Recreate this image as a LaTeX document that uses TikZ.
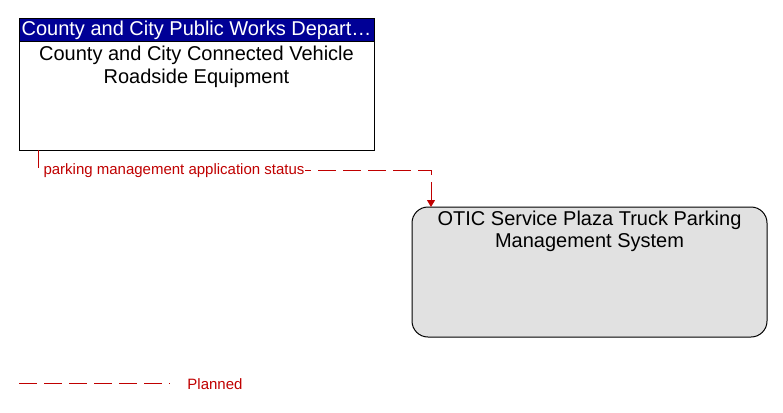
\documentclass[tikz,border=0pt]{standalone}
\usepackage{fontspec}
\setmainfont{Liberation Sans}
\usetikzlibrary{arrows.meta}
\definecolor{hdrblue}{RGB}{0,0,150}
\definecolor{plred}{RGB}{192,0,0}
\definecolor{boxgray}{RGB}{225,225,225}
\tikzset{
  elem/.style={draw=black, line width=1pt, minimum width=355pt, inner sep=0pt},
  bigtxt/.style={font=\fontsize{20}{22.5}\selectfont, align=center, inner sep=0pt},
  smalltxt/.style={font=\fontsize{15}{17}\selectfont, inner sep=0pt},
  planned/.style={draw=plred, line width=1pt, dash pattern=on 18pt off 7pt},
  tip/.style={-{Triangle[width=8pt,length=7pt]}}
}
\begin{document}
\begin{tikzpicture}[x=1pt,y=-1pt]
\useasboundingbox (0,0) rectangle (783,412);
% element 1
\node[elem, fill=white, minimum height=131pt] (box1) at (196.5,84.5) {};
\node[elem, fill=hdrblue, minimum height=23pt, text=white, font=\fontsize{20}{22}\selectfont] (hdr1) at (196.5,30.5) {County and City Public Works Depart…};
\node[bigtxt] (t1) at (196.5,67) {County and City Connected Vehicle\\Roadside Equipment};
% element 2
\node[elem, fill=boxgray, minimum height=130pt, rounded corners=16pt] (box2) at (589.5,272) {};
\node[bigtxt] (t2) at (589.5,231.5) {OTIC Service Plaza Truck Parking\\Management System};
% connector
\coordinate (s) at (38,150);
\coordinate (e) at (431,207);
\draw[planned, tip] (s) |- (e |- 0,170) -- (e);
\node[smalltxt, fill=white, text=plred, inner sep=0.5pt] (lbl) at (174,171) {parking management application status};
% legend
\coordinate (l1) at (19,383);
\coordinate (l2) at (170,383);
\draw[planned] (l1) -- (l2);
\node[smalltxt, text=plred] (leg) at (215,384) {Planned};
\end{tikzpicture}
\end{document}
